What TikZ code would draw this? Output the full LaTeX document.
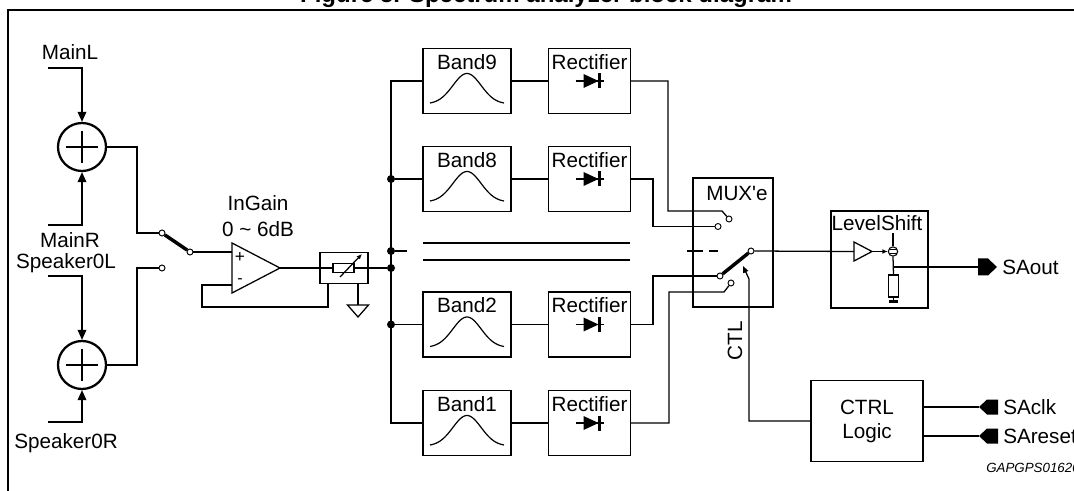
\documentclass[tikz,border=0pt]{standalone}
\usepackage{fontspec}
\setmainfont{Liberation Sans}
\usetikzlibrary{arrows.meta,calc}
\newcommand\gausscurve[1]{\draw[line width=0.9pt,shift={(#1)}] plot[domain=-37:37,samples=60,smooth] (\x,{23-30.5*exp(-(\x/20)^2)});}
\newcommand\diodesym[1]{\begin{scope}[shift={(#1)}]
  \draw[line width=0.95pt] (-14,0)--(14,0);
  \fill (-6,-7)--(-6,7)--(9,0)--cycle;
  \draw[line width=1.6pt] (10,-7.5)--(10,7.5);
\end{scope}}
\begin{document}
\begin{tikzpicture}[x=0.75pt,y=-0.75pt,
  wire/.style={line width=0.95pt},
  box/.style={draw,line width=0.95pt,inner sep=0pt,outer sep=0pt},
  sumc/.style={circle,draw,line width=1.7pt,minimum size=36pt,inner sep=0pt},
  contact/.style={circle,draw,line width=0.7pt,fill=white,minimum size=4.5pt,inner sep=0pt},
  jdot/.style={circle,fill,minimum size=6pt,inner sep=0pt},
  lbl/.style={inner sep=0pt,font=\fontsize{15.5}{18}\selectfont},
  band/.style={box,minimum width=66pt,minimum height=48.75pt},
  rectf/.style={box,minimum width=61.5pt,minimum height=48.75pt},
  arr/.style={-{Triangle[length=7.5pt,width=6.5pt]}},
  smallarr/.style={-{Triangle[length=5pt,width=4pt]}},
]
\useasboundingbox (0,0) rectangle (1074,491);
\clip (0,0) rectangle (1074,491);
% title (clipped)
\node[anchor=base,inner sep=0pt,font=\bfseries\fontsize{18}{22}\selectfont] (title) at (546,3) {Figure 5. Spectrum analyzer block diagram};
% frame
\draw[line width=2.2pt] (8,10) rectangle (1110,520);

% inputs and summers
\node[sumc] (sum1) at (82,147) {};
\node[sumc] (sum2) at (82,365) {};
\foreach \s in {sum1,sum2}{
  \draw[wire] ($(\s.center)+(-16,0)$) -- ($(\s.center)+(16,0)$);
  \draw[wire] ($(\s.center)+(0,-16)$) -- ($(\s.center)+(0,16)$);
}
\node[lbl] (tML) at (70,52) {MainL};
\node[lbl] (tMR) at (70,240) {MainR};
\node[lbl] (tSL) at (66,263) {Speaker0L};
\node[lbl] (tSR) at (66,443) {Speaker0R};
\coordinate (iML) at (48,68);
\coordinate (iMR) at (48,225);
\coordinate (iSL) at (48,276);
\coordinate (iSR) at (48,422);
\draw[wire,arr] (iML) -| (sum1.north);
\draw[wire,arr] (iMR) -| (sum1.south);
\draw[wire,arr] (iSL) -| (sum2.north);
\draw[wire,arr] (iSR) -| (sum2.south);

% input switch
\node[contact] (c1) at (162,233) {};
\node[contact] (c2) at (162,268) {};
\node[contact] (piv) at (190,252) {};
\draw[wire] (sum1.east) -- (137,147) |- (c1);
\draw[wire] (sum2.east) -- (137,365) |- (c2);
\draw[line width=2.6pt] (c1) -- (piv);

% op-amp
\coordinate (oa1) at (232,243);
\coordinate (oa2) at (232,293);
\coordinate (oaout) at (280,268);
\coordinate (oaplus) at (232,252);
\coordinate (oaminus) at (232,285);
\draw[wire] (oa1) -- (oa2) -- (oaout) -- cycle;
\node[inner sep=0pt,font=\fontsize{13}{13}\selectfont] (pl) at (240,257) {+};
\node[inner sep=0pt,font=\fontsize{12}{12}\selectfont] (mi) at (240,281) {-};
\node[lbl,align=center] (tgain) at (258,216) {InGain\\[1pt]0 \textasciitilde\ 6dB};
\draw[wire] (piv) -- (oaplus);

% variable gain box
\node[box,minimum width=36pt,minimum height=23.25pt] (vr) at (344,268) {};
\draw[wire] (oaout) -- (vr.west);
\draw[wire] (vr.west) -- (vr.east);
\draw[wire,fill=white] (333,263.5) rectangle (354,272.5);
\draw[wire,-{Latex[length=4pt,width=3.5pt]}] (340,277) -- (362,254);
\coordinate (fb) at ($(vr.south west)+(8,0)$);
\coordinate (gnd) at ($(vr.south east)+(-10,0)$);
\draw[wire] (fb) -- (328,307) -| (202,285) -- (oaminus);
\draw[wire] (gnd) -- (358,305);
\draw[wire] (347.5,305) -- (368.5,305) -- (358,317) -- cycle;

% bands and rectifiers
\foreach \n/\y in {9/81,8/179,2/324.5,1/423}{
  \node[band] (b\n) at (467,\y) {};
  \node[lbl] (tb\n) at ($(b\n.center)+(0,-19)$) {Band\n};
  \gausscurve{b\n.center}
  \node[rectf] (r\n) at (589.5,\y) {};
  \node[lbl] (tr\n) at ($(r\n.center)+(0,-19)$) {Rectifier};
  \diodesym{r\n.center}
  \draw[wire] (b\n.east) -- (r\n.west);
}
% bus
\coordinate (bt) at (391,81);
\coordinate (bb) at (391,423);
\draw[wire] (b9.west) -- (bt) -- (bb) -- (b1.west);
\node[jdot] (j8) at (391,179) {};
\node[jdot] (j3) at (391,251) {};
\node[jdot] (jin) at (391,268) {};
\node[jdot] (j2) at (391,324.5) {};
\coordinate (stub) at (407,251);
\draw[wire] (j8) -- (b8.west);
\draw[wire] (j2) -- (b2.west);
\draw[wire] (j3) -- (stub);
\draw[wire] (vr.east) -- (jin);
% ellipsis lines
\draw[wire] (423,243) -- (630,243);
\draw[wire] (423,260) -- (630,260);

% MUX
\node[box,minimum width=60pt,minimum height=96.75pt] (mux) at (733,242.5) {};
\node[lbl] (tmux) at (737,193) {MUX\textquotesingle e};
\node[contact] (m9) at (729,219) {};
\node[contact] (m8) at (718,226.5) {};
\node[contact] (m2) at (720,276) {};
\node[contact] (m1) at (731,283) {};
\node[contact] (mp) at (751,251) {};
\draw[wire] (r9.east) -- (668,81) -- (668,211) -- (722,211) -- (m9);
\draw[wire] (r8.east) -- (653,179) |- (m8);
\draw[wire] (r2.east) -- (653,324.5) |- (m2);
\draw[wire] (r1.east) -- (669,423) -- (669,292) -- (724,292) -- (m1);
\draw[line width=2.6pt] (m2) -- (mp);
\draw[wire] (687,251) -- (703,251);
\draw[wire] (709,251) -- (718,251);

% LevelShift
\node[box,minimum width=72.75pt,minimum height=72.75pt] (ls) at (879.5,259.5) {};
\node[lbl] (tls) at (877,223) {LevelShift};
\coordinate (bf1) at (854,242);
\coordinate (bf2) at (854,261);
\coordinate (bfo) at (872,251.5);
\coordinate (bfin) at (854,251.5);
\draw[wire] (bf1) -- (bf2) -- (bfo) -- cycle;
\draw[wire] (mp) -- (bfin);
\node[circle,draw,line width=0.8pt,minimum size=7pt,inner sep=0pt] (sym) at (893,251.5) {};
\draw[line width=0.6pt] (889.5,249.8) -- (896.5,249.8);
\draw[line width=0.6pt] (889.5,253.2) -- (896.5,253.2);
\draw[wire,-{Latex[length=4pt,width=3.5pt]}] (bfo) -- (sym.west);
\draw[wire] (sym.north) -- (893,233);
\node[box,minimum width=7.5pt,minimum height=16.5pt] (res) at (893.5,286) {};
\draw[wire] (sym.south) -- (res.north);
\draw[wire] (res.south) -- (893.5,301.5);
\draw[line width=2pt] (889,301.5) -- (898,301.5);
\coordinate (jls) at (893,267);
\coordinate (saoutf) at (978,267);
\draw[wire] (jls) -- (saoutf);
\fill (978,258.5) -- (988,258.5) -- (997,267) -- (988,275.5) -- (978,275.5) -- cycle;
\node[lbl,anchor=west] (tsaout) at (1002,267) {SAout};

% CTRL logic
\node[box,lbl,minimum width=84pt,minimum height=60.75pt,align=center] (ctrl) at (867,421) {CTRL\\Logic};
\draw[wire,smallarr] (ctrl.west) -- (749,421) -- (749,279) -- (743,266);
\node[lbl,rotate=90] (tctl) at (735,341) {CTL};
\coordinate (ck) at (979,407);
\coordinate (rs) at (979,436);
\draw[wire] (ctrl.east |- ck) -- (ck);
\draw[wire] (ctrl.east |- rs) -- (rs);
\fill (979,407) -- (987,399.5) -- (998,399.5) -- (998,414.5) -- (987,414.5) -- cycle;
\fill (979,436) -- (987,428.5) -- (998,428.5) -- (998,443.5) -- (987,443.5) -- cycle;
\node[lbl,anchor=west] (tsaclk) at (1003,407) {SAclk};
\node[lbl,anchor=west] (tsares) at (1003,436) {SAreset};
\node[anchor=west,inner sep=0pt,font=\itshape\fontsize{10}{12}\selectfont] (code) at (986,468) {GAPGPS01620};
\end{tikzpicture}
\end{document}
